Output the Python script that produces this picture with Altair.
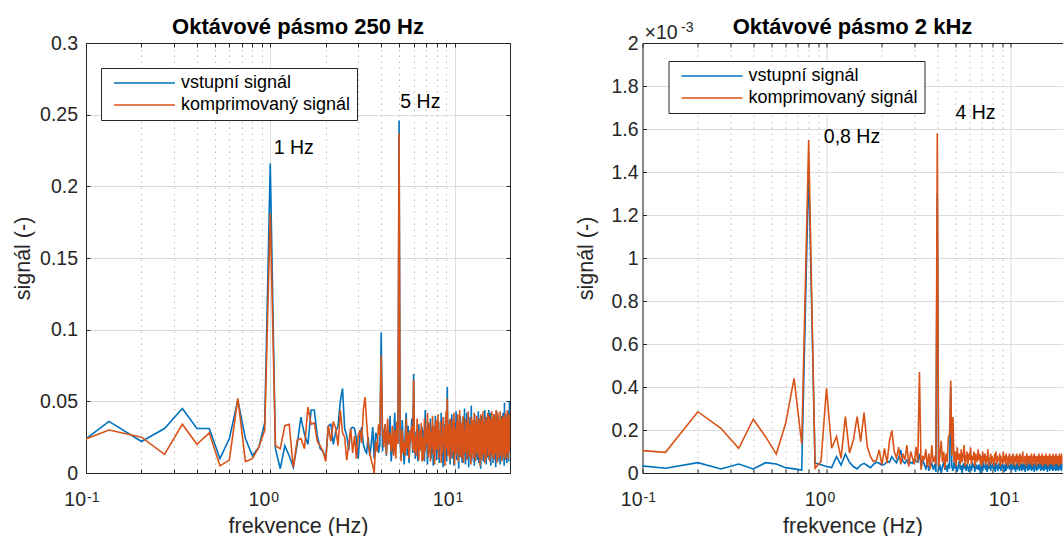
import altair as alt
import numpy as np
import pandas as pd

FONT = "Liberation Sans"
INK = "#262626"
H = 430          # plot height of both panels
W_250 = 424      # plot width, 250 Hz panel (0.1 .. 20 Hz)
W_2K = 420       # plot width, 2 kHz panel (0.1 .. 19.17 Hz, runs to the page edge)
BIN_HZ = 1 / 15  # spacing of the spectral lines, Hz

SERIES = ["vstupní signál", "komprimovaný signál"]
COLORS = ["#0072BD", "#D95319"]

# Octave band 250 Hz: spectrum magnitude in thousandths, lines k = 1..300
vstup_250 = [
    7, 36, 22, 31, 45, 31, 31, 10, 24, 51,
    24, 12, 18, 35, 216, 17, 3, 19, 12, 4,
    20, 39, 27, 20, 44, 44, 26, 17, 15, 10,
    33, 34, 20, 29, 33, 50, 59, 31, 26, 16,
    31, 32, 31, 24, 10, 26, 32, 20, 16, 14,
    25, 12, 20, 32, 10, 28, 25, 14, 20, 98,
    15, 28, 34, 12, 30, 20, 40, 8, 22, 14,
    42, 17, 30, 21, 246, 22, 10, 37, 18, 6,
    28, 42, 12, 33, 7, 22, 26, 38, 14, 69,
    20, 10, 29, 24, 8, 34, 17, 26, 15, 32,
    12, 30, 8, 44, 18, 27, 6, 35, 21, 14,
    38, 10, 25, 33, 5, 29, 16, 40, 22, 9,
    31, 15, 36, 7, 26, 19, 42, 12, 28, 4,
    34, 20, 11, 39, 24, 8, 60, 17, 30, 13,
    37, 6, 27, 22, 41, 10, 32, 18, 5, 35,
    23, 14, 43, 9, 29, 20, 36, 3, 26, 16,
    40, 11, 31, 24, 7, 38, 19, 28, 13, 45,
    21, 6, 33, 15, 42, 10, 27, 35, 4, 30,
    17, 39, 12, 25, 47, 8, 34, 20, 14, 37,
    22, 5, 41, 16, 29, 11, 36, 26, 9, 32,
    19, 43, 7, 28, 15, 38, 23, 3, 34, 18,
    40, 12, 27, 21, 8, 36, 30, 14, 44, 10,
    25, 33, 6, 39, 17, 29, 11, 37, 20, 44,
    9, 31, 24, 16, 42, 5, 28, 35, 13, 26,
    38, 18, 7, 33, 22, 41, 10, 30, 15, 36,
    4, 27, 19, 43, 12, 34, 23, 8, 39, 17,
    29, 14, 37, 21, 6, 32, 25, 11, 40, 18,
    35, 9, 28, 16, 42, 13, 30, 22, 5, 49,
    20, 33, 10, 38, 24, 15, 41, 7, 29, 19,
    36, 12, 27, 43, 8, 31, 17, 50, 23, 34,
]
komp_250 = [
    15, 30, 25, 13, 34, 20, 28, 5, 9, 52,
    8, 10, 18, 30, 181, 19, 17, 33, 34, 4,
    23, 24, 17, 46, 34, 35, 22, 19, 15, 8,
    33, 22, 36, 31, 19, 44, 28, 25, 9, 20,
    31, 14, 26, 10, 26, 30, 21, 44, 53, 36,
    20, 14, 9, 5, 0, 22, 15, 34, 26, 82,
    30, 18, 34, 13, 38, 20, 28, 15, 33, 12,
    30, 10, 36, 20, 237, 28, 8, 30, 14, 22,
    12, 38, 17, 28, 10, 30, 22, 33, 16, 65,
    14, 26, 12, 38, 20, 9, 30, 16, 35, 8,
    25, 9, 38, 15, 31, 20, 42, 11, 27, 35,
    8, 29, 18, 40, 13, 33, 6, 24, 37, 16,
    28, 41, 10, 30, 19, 36, 7, 26, 14, 39,
    21, 32, 5, 27, 43, 17, 52, 12, 34, 23,
    9, 38, 20, 30, 11, 37, 15, 28, 42, 6,
    31, 25, 13, 36, 19, 41, 8, 29, 22, 44,
    12, 27, 35, 10, 33, 18, 40, 7, 26, 30,
    14, 38, 21, 32, 9, 36, 16, 43, 24, 11,
    34, 19, 28, 6, 39, 23, 13, 37, 27, 10,
    30, 42, 17, 25, 8, 35, 20, 40, 14, 29,
    33, 11, 38, 22, 31, 5, 27, 41, 16, 36,
    9, 30, 24, 43, 13, 26, 19, 34, 7, 39,
    28, 15, 37, 10, 32, 21, 42, 17, 35, 12,
    40, 20, 8, 31, 25, 38, 14, 27, 43, 18,
    11, 36, 29, 16, 41, 9, 33, 22, 39, 13,
    30, 44, 19, 26, 7, 35, 24, 42, 15, 31,
    37, 10, 28, 20, 43, 17, 34, 12, 29, 38,
    8, 33, 21, 40, 14, 36, 25, 11, 39, 27,
    16, 42, 30, 9, 35, 22, 13, 38, 26, 44,
    18, 31, 10, 37, 24, 41, 15, 33, 20, 40,
]

# Octave band 2 kHz: spectrum magnitude in units of 1e-3, lines k = 1..290
vstup_2k = [
    .048, .022, .048, .019, .042, .019, .048, .042, .025, .019,
    .014, 1.420, .046, .038, .030, .025, .076, .037, .088, .050,
    .030, .019, .037, .045, .035, .025, .040, .050, .045, .037,
    .040, .055, .050, .076, .060, .048, .070, .107, .055, .045,
    .060, .040, .050, .045, .065, .055, .050, .090, .030, .060,
    .040, .020, .050, .010, .030, .045, .020, .035, .005, 1.300,
    .010, .040, .000, .030, .050, .015, .035, .005, .045, .020,
    .400, .030, .010, .050, .020, .040, .005, .030, .055, .015,
    .035, .000, .045, .020, .050, .010, .040, .025, .005, .035,
    .030, .010, .050, .025, .040, .005, .045, .020, .035, .015,
    .040, .020, .000, .045, .030, .010, .050, .025, .035, .015,
    .045, .005, .030, .040, .020, .055, .010, .035, .025, .045,
    .015, .040, .030, .005, .050, .020, .035, .010, .045, .030,
    .020, .050, .010, .040, .025, .045, .015, .035, .005, .040,
    .030, .010, .045, .020, .055, .025, .040, .015, .035, .020,
    .045, .010, .030, .040, .020, .050, .015, .035, .025, .005,
    .040, .030, .050, .015, .035, .025, .045, .010, .030, .040,
    .020, .050, .010, .035, .025, .045, .015, .040, .030, .005,
    .035, .045, .020, .030, .050, .010, .040, .025, .035, .015,
    .045, .020, .030, .055, .010, .035, .025, .040, .015, .045,
    .030, .005, .040, .025, .050, .020, .035, .010, .045, .030,
    .015, .040, .025, .035, .050, .020, .030, .045, .010, .035,
    .025, .040, .015, .050, .030, .020, .045, .010, .035, .040,
    .020, .030, .050, .015, .040, .025, .035, .005, .045, .030,
    .020, .040, .030, .050, .010, .035, .025, .045, .015, .040,
    .030, .020, .050, .035, .010, .045, .025, .040, .015, .030,
    .045, .020, .035, .010, .050, .030, .040, .025, .015, .045,
    .030, .040, .010, .035, .050, .020, .045, .025, .030, .015,
    .040, .025, .050, .010, .035, .045, .020, .030, .040, .025,
]
komp_2k = [
    .115, .096, .285, .208, .115, .250, .169, .088, .231, .440,
    .135, 1.549, .022, .053, .394, .115, .169, .068, .262, .093,
    .153, .262, .146, .281, .122, .076, .053, .060, .107, .038,
    .115, .046, .150, .198, .100, .070, .120, .040, .090, .060,
    .130, .030, .100, .070, .040, .120, .050, .470, .014, .080,
    .060, .110, .030, .090, .020, .130, .050, .070, .040, 1.580,
    .030, .080, .150, .050, .100, .020, .090, .050, .170, .180,
    .430, .080, .260, .050, .100, .030, .120, .060, .090, .040,
    .110, .050, .080, .130, .030, .070, .100, .040, .090, .060,
    .120, .040, .080, .060, .100, .030, .090, .070, .050, .110,
    .060, .090, .040, .080, .030, .100, .050, .070, .090, .040,
    .080, .050, .110, .030, .070, .060, .090, .040, .080, .050,
    .070, .030, .090, .060, .100, .040, .080, .050, .070, .060,
    .090, .030, .080, .050, .070, .040, .100, .060, .050, .080,
    .040, .090, .060, .070, .030, .080, .050, .090, .040, .070,
    .060, .080, .040, .070, .090, .050, .060, .030, .080, .070,
    .050, .090, .060, .040, .080, .070, .030, .060, .090, .050,
    .070, .040, .080, .060, .100, .050, .070, .040, .060, .080,
    .050, .070, .030, .090, .060, .050, .080, .070, .040, .060,
    .080, .050, .070, .040, .090, .060, .030, .070, .050, .080,
    .060, .090, .040, .070, .050, .080, .060, .030, .070, .060,
    .080, .050, .060, .090, .040, .070, .050, .080, .060, .040,
    .070, .060, .090, .050, .030, .080, .060, .070, .040, .080,
    .050, .070, .060, .090, .040, .060, .080, .050, .070, .030,
    .060, .080, .050, .070, .090, .040, .060, .070, .050, .080,
    .040, .070, .060, .080, .050, .090, .030, .060, .070, .050,
    .080, .060, .040, .070, .090, .050, .060, .080, .040, .070,
    .060, .050, .080, .070, .030, .060, .090, .050, .070, .060,
    .080, .040, .070, .060, .090, .050, .070, .080, .040, .060,
]

# Axis ticks
DECADES = [0.1, 1, 10]
DECADE_EXPONENTS = ["-1", "0", "1"]
X_MINOR = [0.2, 0.3, 0.4, 0.5, 0.6, 0.7, 0.8, 0.9, 2, 3, 4, 5, 6, 7, 8, 9]
Y_TICKS_250 = [0, 0.05, 0.1, 0.15, 0.2, 0.25, 0.3]
Y_TICKS_2K = [0, 0.2, 0.4, 0.6, 0.8, 1, 1.2, 1.4, 1.6, 1.8, 2]

# Peak annotations
NOTE_F_250 = [1.043, 5.08]
NOTE_V_250 = [0.227, 0.259]
NOTE_T_250 = ["1 Hz", "5 Hz"]
NOTE_F_2K = [0.967, 5.02]
NOTE_V_2K = [1.564, 1.673]
NOTE_T_2K = ["0,8 Hz", "4 Hz"]

MAJOR_TEST = "abs(log(datum.value) / LN10 - round(log(datum.value) / LN10)) < 0.001"


def spectrum(values, unit, name):
    k = np.arange(1, len(values) + 1)
    return pd.DataFrame({"f": k * BIN_HZ, "v": np.asarray(values, float) * unit,
                         "series": name})


def panel(blue, orange, unit, xmax, width, yticks, yfmt, title, notes,
          legend_xy, label_pad, ytitle_x, exponent=None, right_frame=True):
    xs = alt.Scale(type="log", domain=[0.1, xmax], nice=False)
    ys = alt.Scale(domain=[yticks[0], yticks[-1]], nice=False, zero=True)
    xvals = sorted(v for v in DECADES + X_MINOR if v <= xmax)

    color = alt.Color(
        "series:N",
        scale=alt.Scale(domain=SERIES, range=COLORS),
        legend=alt.Legend(
            orient="none", legendX=legend_xy[0], legendY=legend_xy[1], title=None,
            symbolType="stroke", symbolSize=3721, symbolStrokeWidth=1.6,
            labelFont=FONT, labelFontSize=18, labelColor="#000", labelLimit=600,
            padding=6, strokeColor=INK, fillColor="white", rowPadding=4,
            labelOffset=5, symbolOffset=6, clipHeight=18,
        ),
    )

    x_main = alt.Axis(
        orient="bottom", values=xvals, labels=False, ticks=False, tickSize=0,
        domain=True, domainColor=INK, domainWidth=1,
        grid=True, gridWidth=1,
        gridColor={"condition": {"test": MAJOR_TEST, "value": "#dcdcdc"}, "value": "#bdbdbd"},
        gridDash={"condition": {"test": MAJOR_TEST, "value": []}, "value": [1.5, 4.5]},
        title="frekvence (Hz)", titleFont=FONT, titleFontSize=21.5,
        titleFontWeight="normal", titleColor=INK, titleBaseline="alphabetic",
        titleY=59.5,
    )
    y_main = alt.Axis(
        orient="left", values=yticks, format=yfmt, labelFont=FONT,
        labelFontSize=19.5, labelColor=INK, labelPadding=label_pad,
        labelFlush=False, labelOverlap=False, ticks=False, tickSize=0,
        domain=True, domainColor=INK, domainWidth=1,
        grid=True, gridColor="#dcdcdc", gridWidth=1,
        title="signál (-)", titleFont=FONT, titleFontSize=21.5,
        titleFontWeight="normal", titleColor=INK, titleAngle=270,
        titleBaseline="alphabetic", titleAlign="center", titleX=ytitle_x,
        titleY=H / 2,
    )
    # inward tick marks: axes moved onto the opposite edge of the plot
    tick = dict(labels=False, grid=False, tickSize=4, tickColor=INK, tickWidth=1,
                title=None)
    x_ticks_bottom = alt.Axis(orient="top", offset=-H, values=xvals, domain=False, **tick)
    x_ticks_top = alt.Axis(orient="bottom", offset=-H, values=xvals, domain=True,
                           domainColor=INK, **tick)
    y_ticks_left = alt.Axis(orient="right", offset=-width, values=yticks,
                            domain=False, **tick)
    y_ticks_right = alt.Axis(orient="left", offset=-width, values=yticks,
                             domain=True, domainColor=INK, **tick)

    blue_l = alt.Chart(spectrum(blue, unit, SERIES[0])).mark_line(
        clip=True, strokeWidth=1.6).encode(
        x=alt.X("f:Q", scale=xs, axis=x_main),
        y=alt.Y("v:Q", scale=ys, axis=y_main),
        color=color,
    )
    orange_l = alt.Chart(spectrum(orange, unit, SERIES[1])).mark_line(
        clip=True, strokeWidth=1.6).encode(
        x=alt.X("f:Q", scale=xs, axis=x_ticks_bottom),
        y=alt.Y("v:Q", scale=ys, axis=y_ticks_left),
        color=color,
    )
    notes_l = alt.Chart(notes).mark_text(
        align="left", baseline="middle", font=FONT, fontSize=19.5, color="#000"
    ).encode(
        x=alt.X("f:Q", scale=xs, axis=x_ticks_top),
        y=alt.Y("v:Q", scale=ys, axis=y_ticks_right if right_frame else None),
        text="text:N",
    )
    dec = pd.DataFrame({"f": DECADES, "exp": DECADE_EXPONENTS})
    base_l = alt.Chart(dec).transform_calculate(base="'10'").mark_text(
        align="right", baseline="alphabetic", font=FONT, fontSize=19.5, color=INK
    ).encode(x=alt.X("f:Q", scale=xs, axis=None), y=alt.value(H + 33),
             text="base:N")
    exp_l = alt.Chart(dec).mark_text(
        align="left", baseline="alphabetic", dx=1, font=FONT, fontSize=14, color=INK
    ).encode(x=alt.X("f:Q", scale=xs, axis=None), y=alt.value(H + 28.5),
             text="exp:N")
    # panel heading, centred over the plot
    head_l = alt.Chart(pd.DataFrame({"t": [title]})).mark_text(
        align="center", baseline="alphabetic", font=FONT, fontSize=22,
        fontWeight="bold", color="#000"
    ).encode(x=alt.value(width / 2), y=alt.value(-9.5), text="t:N")

    layers = [blue_l, orange_l, notes_l, base_l, exp_l, head_l]
    if exponent:
        mult = pd.DataFrame({"t": ["×10"], "e": [exponent]})
        layers.append(alt.Chart(mult).mark_text(
            align="left", baseline="alphabetic", font=FONT, fontSize=19.5, color=INK
        ).encode(x=alt.value(2), y=alt.value(-3.7), text="t:N"))
        layers.append(alt.Chart(mult).mark_text(
            align="left", baseline="alphabetic", font=FONT, fontSize=14, color=INK
        ).encode(x=alt.value(38.5), y=alt.value(-11.5), text="e:N"))

    return alt.layer(*layers).resolve_axis(x="independent", y="independent").properties(
        width=width, height=H)


left = panel(vstup_250, komp_250, 0.001, 20, W_250, Y_TICKS_250, ".2~f",
             "Oktávové pásmo 250 Hz",
             pd.DataFrame({"f": NOTE_F_250, "v": NOTE_V_250, "text": NOTE_T_250}),
             legend_xy=(15, 25), label_pad=8.5, ytitle_x=-57)
right = panel(vstup_2k, komp_2k, 1.0, 19.17, W_2K, Y_TICKS_2K, ".1~f",
              "Oktávové pásmo 2 kHz",
              pd.DataFrame({"f": NOTE_F_2K, "v": NOTE_V_2K, "text": NOTE_T_2K}),
              legend_xy=(26, 18), label_pad=4.5, ytitle_x=-50,
              exponent="-3", right_frame=False)

chart = alt.hconcat(left, right, spacing=132.5, bounds="flush").resolve_scale(
    color="independent"
).configure_view(strokeWidth=0).properties(
    padding={"left": 12, "top": 15, "right": 0, "bottom": 0},
    background="white",
)

chart.save("out.html", embed_options={"renderer": "svg", "actions": False})
